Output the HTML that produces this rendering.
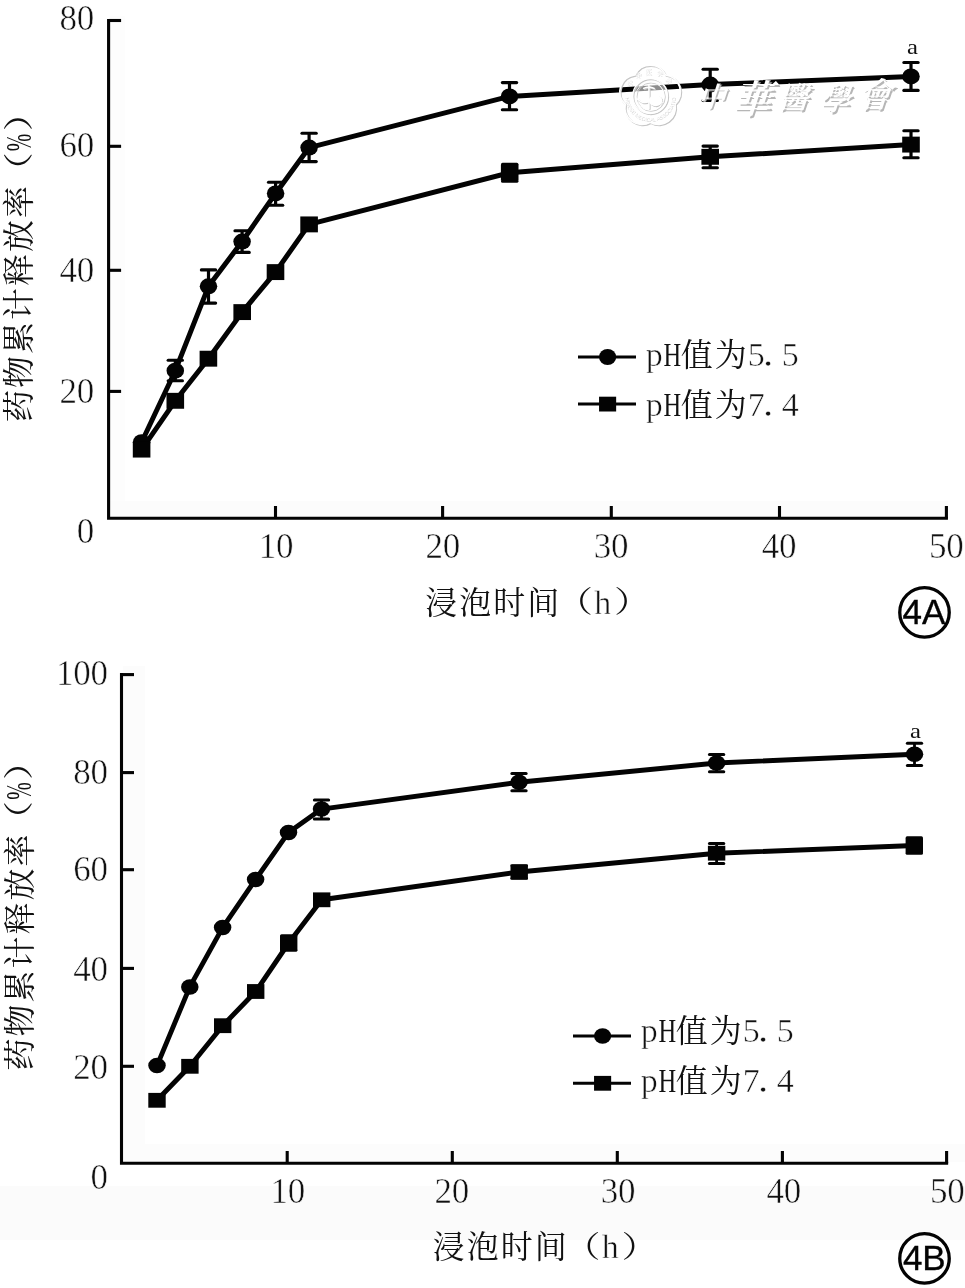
<!DOCTYPE html>
<html lang="zh-CN"><head><meta charset="utf-8"><title>图4 药物累计释放率</title>
<style>
html,body{margin:0;padding:0;background:#fff}
svg{display:block}
text{font-family:"Liberation Serif","Noto Serif CJK SC",serif;font-weight:400}
.t text{stroke:#fff;stroke-width:.5px;paint-order:fill stroke}
.t text.sans{stroke:#030303;stroke-width:.35px}
.t .c{stroke:none}
.sans{font-family:"Liberation Sans",sans-serif}
.wmk text{font-family:"Liberation Serif","Noto Serif CJK SC",serif;font-weight:600}
</style></head><body>
<svg width="965" height="1288" viewBox="0 0 965 1288">
<rect width="965" height="1288" fill="#ffffff"/>
<rect x="0" y="1186" width="965" height="54" fill="#fbfbfb"/>
<rect x="123" y="1144" width="842" height="18" fill="#fcfcfc"/>
<rect x="123" y="666" width="22" height="478" fill="#fcfcfc"/>
<rect x="110" y="16" width="15" height="486" fill="#fdfdfd"/>
<rect x="110" y="501" width="838" height="16" fill="#fcfcfc"/>
<g class="t">
<path d="M108.6,18.95 V518.3 H947.95" fill="none" stroke="#030303" stroke-width="3.1" stroke-linejoin="miter"/>
<line x1="108.60" y1="20.50" x2="121.10" y2="20.50" stroke="#030303" stroke-width="3.1" stroke-linecap="butt"/>
<line x1="108.60" y1="146.30" x2="121.10" y2="146.30" stroke="#030303" stroke-width="3.1" stroke-linecap="butt"/>
<line x1="108.60" y1="270.30" x2="121.10" y2="270.30" stroke="#030303" stroke-width="3.1" stroke-linecap="butt"/>
<line x1="108.60" y1="391.40" x2="121.10" y2="391.40" stroke="#030303" stroke-width="3.1" stroke-linecap="butt"/>
<text x="59.38 76.64" y="29.6" font-size="35" fill="#111">80</text>
<text x="59.38 76.64" y="156.5" font-size="35" fill="#111">60</text>
<text x="59.38 76.64" y="281.5" font-size="35" fill="#111">40</text>
<text x="59.38 76.64" y="402.6" font-size="35" fill="#111">20</text>
<text x="76.64" y="542.6" font-size="35" fill="#111">0</text>
<line x1="275.50" y1="518.30" x2="275.50" y2="506.00" stroke="#030303" stroke-width="3.1" stroke-linecap="butt"/>
<text x="258.84 276.10" y="557.7" font-size="35" fill="#111">10</text>
<line x1="442.60" y1="518.30" x2="442.60" y2="506.00" stroke="#030303" stroke-width="3.1" stroke-linecap="butt"/>
<text x="425.54 442.80" y="557.7" font-size="35" fill="#111">20</text>
<line x1="611.30" y1="518.30" x2="611.30" y2="506.00" stroke="#030303" stroke-width="3.1" stroke-linecap="butt"/>
<text x="593.84 611.10" y="557.7" font-size="35" fill="#111">30</text>
<line x1="779.50" y1="518.30" x2="779.50" y2="506.00" stroke="#030303" stroke-width="3.1" stroke-linecap="butt"/>
<text x="761.64 778.90" y="557.7" font-size="35" fill="#111">40</text>
<line x1="946.40" y1="518.30" x2="946.40" y2="506.00" stroke="#030303" stroke-width="3.1" stroke-linecap="butt"/>
<text x="928.94 946.20" y="557.7" font-size="35" fill="#111">50</text>
<path d="M141.6,449.6 L175.3,400.8 L208.4,358.7 L242.2,312.1 L275.5,272.1 L309.1,224.4 L509.7,172.7 L710.2,156.8 L911.0,144.6" fill="none" stroke="#030303" stroke-width="5.0" stroke-linejoin="round" stroke-linecap="round"/>
<path d="M141.6,442.2 L175.3,370.7 L208.5,286.3 L242.1,241.6 L275.6,193.4 L309.1,147.6 L509.5,96.4 L710.2,84.6 L911.0,76.4" fill="none" stroke="#030303" stroke-width="5.0" stroke-linejoin="round" stroke-linecap="round"/>
<line x1="509.70" y1="164.20" x2="509.70" y2="181.20" stroke="#030303" stroke-width="3.2" stroke-linecap="butt"/>
<line x1="502.55" y1="164.20" x2="516.85" y2="164.20" stroke="#030303" stroke-width="3.1" stroke-linecap="round"/>
<line x1="502.55" y1="181.20" x2="516.85" y2="181.20" stroke="#030303" stroke-width="3.1" stroke-linecap="round"/>
<line x1="710.20" y1="146.10" x2="710.20" y2="167.80" stroke="#030303" stroke-width="3.2" stroke-linecap="butt"/>
<line x1="703.05" y1="146.10" x2="717.35" y2="146.10" stroke="#030303" stroke-width="3.1" stroke-linecap="round"/>
<line x1="703.05" y1="167.80" x2="717.35" y2="167.80" stroke="#030303" stroke-width="3.1" stroke-linecap="round"/>
<line x1="911.00" y1="130.70" x2="911.00" y2="157.70" stroke="#030303" stroke-width="3.2" stroke-linecap="butt"/>
<line x1="903.85" y1="130.70" x2="918.15" y2="130.70" stroke="#030303" stroke-width="3.1" stroke-linecap="round"/>
<line x1="903.85" y1="157.70" x2="918.15" y2="157.70" stroke="#030303" stroke-width="3.1" stroke-linecap="round"/>
<line x1="175.30" y1="360.20" x2="175.30" y2="380.70" stroke="#030303" stroke-width="3.2" stroke-linecap="butt"/>
<line x1="168.15" y1="360.20" x2="182.45" y2="360.20" stroke="#030303" stroke-width="3.1" stroke-linecap="round"/>
<line x1="168.15" y1="380.70" x2="182.45" y2="380.70" stroke="#030303" stroke-width="3.1" stroke-linecap="round"/>
<line x1="208.50" y1="269.90" x2="208.50" y2="303.10" stroke="#030303" stroke-width="3.2" stroke-linecap="butt"/>
<line x1="201.35" y1="269.90" x2="215.65" y2="269.90" stroke="#030303" stroke-width="3.1" stroke-linecap="round"/>
<line x1="201.35" y1="303.10" x2="215.65" y2="303.10" stroke="#030303" stroke-width="3.1" stroke-linecap="round"/>
<line x1="242.10" y1="230.70" x2="242.10" y2="252.40" stroke="#030303" stroke-width="3.2" stroke-linecap="butt"/>
<line x1="234.95" y1="230.70" x2="249.25" y2="230.70" stroke="#030303" stroke-width="3.1" stroke-linecap="round"/>
<line x1="234.95" y1="252.40" x2="249.25" y2="252.40" stroke="#030303" stroke-width="3.1" stroke-linecap="round"/>
<line x1="275.60" y1="182.20" x2="275.60" y2="205.20" stroke="#030303" stroke-width="3.2" stroke-linecap="butt"/>
<line x1="268.45" y1="182.20" x2="282.75" y2="182.20" stroke="#030303" stroke-width="3.1" stroke-linecap="round"/>
<line x1="268.45" y1="205.20" x2="282.75" y2="205.20" stroke="#030303" stroke-width="3.1" stroke-linecap="round"/>
<line x1="309.10" y1="133.30" x2="309.10" y2="161.60" stroke="#030303" stroke-width="3.2" stroke-linecap="butt"/>
<line x1="301.95" y1="133.30" x2="316.25" y2="133.30" stroke="#030303" stroke-width="3.1" stroke-linecap="round"/>
<line x1="301.95" y1="161.60" x2="316.25" y2="161.60" stroke="#030303" stroke-width="3.1" stroke-linecap="round"/>
<line x1="509.50" y1="82.60" x2="509.50" y2="109.80" stroke="#030303" stroke-width="3.2" stroke-linecap="butt"/>
<line x1="502.35" y1="82.60" x2="516.65" y2="82.60" stroke="#030303" stroke-width="3.1" stroke-linecap="round"/>
<line x1="502.35" y1="109.80" x2="516.65" y2="109.80" stroke="#030303" stroke-width="3.1" stroke-linecap="round"/>
<line x1="710.20" y1="69.20" x2="710.20" y2="100.50" stroke="#030303" stroke-width="3.2" stroke-linecap="butt"/>
<line x1="703.05" y1="69.20" x2="717.35" y2="69.20" stroke="#030303" stroke-width="3.1" stroke-linecap="round"/>
<line x1="703.05" y1="100.50" x2="717.35" y2="100.50" stroke="#030303" stroke-width="3.1" stroke-linecap="round"/>
<line x1="911.00" y1="62.50" x2="911.00" y2="90.40" stroke="#030303" stroke-width="3.2" stroke-linecap="butt"/>
<line x1="903.85" y1="62.50" x2="918.15" y2="62.50" stroke="#030303" stroke-width="3.1" stroke-linecap="round"/>
<line x1="903.85" y1="90.40" x2="918.15" y2="90.40" stroke="#030303" stroke-width="3.1" stroke-linecap="round"/>
<ellipse cx="141.6" cy="442.2" rx="8.75" ry="8.0" fill="#030303"/>
<ellipse cx="175.3" cy="370.7" rx="8.75" ry="8.0" fill="#030303"/>
<ellipse cx="208.5" cy="286.3" rx="8.75" ry="8.0" fill="#030303"/>
<ellipse cx="242.1" cy="241.6" rx="8.75" ry="8.0" fill="#030303"/>
<ellipse cx="275.6" cy="193.4" rx="8.75" ry="8.0" fill="#030303"/>
<ellipse cx="309.1" cy="147.6" rx="8.75" ry="8.0" fill="#030303"/>
<ellipse cx="509.5" cy="96.4" rx="8.75" ry="8.0" fill="#030303"/>
<ellipse cx="710.2" cy="84.6" rx="8.75" ry="8.0" fill="#030303"/>
<ellipse cx="911.0" cy="76.4" rx="8.75" ry="8.0" fill="#030303"/>
<rect x="132.80" y="441.65" width="17.6" height="15.9" fill="#030303"/>
<rect x="166.50" y="392.85" width="17.6" height="15.9" fill="#030303"/>
<rect x="199.60" y="350.75" width="17.6" height="15.9" fill="#030303"/>
<rect x="233.40" y="304.15" width="17.6" height="15.9" fill="#030303"/>
<rect x="266.70" y="264.15" width="17.6" height="15.9" fill="#030303"/>
<rect x="300.30" y="216.45" width="17.6" height="15.9" fill="#030303"/>
<rect x="500.90" y="164.75" width="17.6" height="15.9" fill="#030303"/>
<rect x="701.40" y="148.85" width="17.6" height="15.9" fill="#030303"/>
<rect x="902.20" y="136.65" width="17.6" height="15.9" fill="#030303"/>
<line x1="578.00" y1="357.00" x2="636.00" y2="357.00" stroke="#030303" stroke-width="3.0" stroke-linecap="butt"/>
<ellipse cx="607.6" cy="357.0" rx="8.6" ry="8.1" fill="#030303"/>
<text font-size="34.0" fill="#111"><tspan y="365.7" x="645.70">p</tspan><tspan class="c" x="663.50" y="365.70" font-size="32.98" textLength="17.67" lengthAdjust="spacingAndGlyphs">H</tspan><tspan y="365.7" class="c" x="680.72 714.72" font-size="31.96">值为</tspan><tspan y="365.7" x="747.70">5</tspan><tspan x="763.00" y="365.70" font-size="40.80">.</tspan><tspan y="365.7" x="781.70">5</tspan></text>
<line x1="578.00" y1="404.10" x2="636.00" y2="404.10" stroke="#030303" stroke-width="3.0" stroke-linecap="butt"/>
<rect x="599.0500000000001" y="396.70" width="17.1" height="14.8" fill="#030303"/>
<text font-size="34.0" fill="#111"><tspan y="415.6" x="645.70">p</tspan><tspan class="c" x="663.50" y="415.60" font-size="32.98" textLength="17.67" lengthAdjust="spacingAndGlyphs">H</tspan><tspan y="415.6" class="c" x="680.72 714.72" font-size="31.96">值为</tspan><tspan y="415.6" x="747.70">7</tspan><tspan x="763.00" y="415.60" font-size="40.80">.</tspan><tspan y="415.6" x="781.70">4</tspan></text>
<text class="c" transform="translate(912.4,53.9) scale(1.15,1)" text-anchor="middle" font-size="21.5" fill="#111">a</text>
<text font-size="34.0" fill="#111"><tspan y="613.8" class="c" x="425.32 459.32 493.32 527.32" font-size="31.96">浸泡时间</tspan><tspan class="c" x="555.90" y="612.30" font-size="29.68" textLength="37.06" lengthAdjust="spacingAndGlyphs">（</tspan><tspan y="613.8" x="594.30">h</tspan><tspan class="c" x="613.90" y="612.30" font-size="29.68" textLength="37.06" lengthAdjust="spacingAndGlyphs">）</tspan></text>
<g transform="translate(30.3,422.9) rotate(-90)">
<text font-size="34.0" fill="#111"><tspan y="0" class="c" x="1.02 35.02 69.02 103.02 137.02 171.02 205.02" font-size="31.96">药物累计释放率</tspan><tspan class="c" x="233.60" y="-1.50" font-size="29.68" textLength="37.06" lengthAdjust="spacingAndGlyphs">（</tspan><tspan class="c" x="271.70" y="0.30" font-size="35.36" textLength="17.56" lengthAdjust="spacingAndGlyphs">%</tspan><tspan class="c" x="291.60" y="-1.50" font-size="29.68" textLength="37.06" lengthAdjust="spacingAndGlyphs">）</tspan></text>
</g>
<circle cx="924.5" cy="612.4" r="24.75" fill="none" stroke="#030303" stroke-width="3.3"/>
<text class="sans" x="923.9" y="623.8" text-anchor="middle" font-size="35" fill="#030303">4A</text>
</g>
<defs><filter id="wb" x="-10%" y="-10%" width="120%" height="120%"><feGaussianBlur stdDeviation="0.55"/></filter>
<path id="wmTop" d="M628.60,96.10 A21.5,21.5 0 0 1 671.60,96.10"/>
<path id="wmBot" d="M624.90,96.10 A25.2,25.2 0 0 0 675.30,96.10"/></defs>
<g id="watermark">
<circle cx="650.1" cy="96.1" r="17.2" fill="#fff" fill-opacity="0.55"/>
<g transform="translate(1.0,1.0)" filter="url(#wb)" fill="none" stroke="#c6c6c6">
<path d="M634.70,74.90 A17.0,17.0 0 0 1 665.50,74.90 A17.0,17.0 0 0 1 675.02,104.20 A17.0,17.0 0 0 1 650.10,122.30 A17.0,17.0 0 0 1 625.18,104.20 A17.0,17.0 0 0 1 634.70,74.90Z" stroke-width="1.7"/>
<circle cx="650.1" cy="96.1" r="17.4" stroke-width="1.3"/>
<circle cx="650.1" cy="96.1" r="14.2" stroke-width="0.9"/>
<ellipse cx="655.6" cy="100.6" rx="6.8" ry="5.6" fill="#c6c6c6" stroke="none"/>
<path d="M648.9,84.1 V109.1 M643.1,88.6 q5.8,-3.2 11.6,0 M637.1,98.6 q6.5,6.5 12,2.2" stroke-width="1.5"/>
</g>
<g transform="translate(0,0)" fill="none" stroke="#fff">
<path d="M634.70,74.90 A17.0,17.0 0 0 1 665.50,74.90 A17.0,17.0 0 0 1 675.02,104.20 A17.0,17.0 0 0 1 650.10,122.30 A17.0,17.0 0 0 1 625.18,104.20 A17.0,17.0 0 0 1 634.70,74.90Z" stroke-width="1.7"/>
<circle cx="650.1" cy="96.1" r="17.4" stroke-width="1.3"/>
<circle cx="650.1" cy="96.1" r="14.2" stroke-width="0.9"/>
<ellipse cx="655.6" cy="100.6" rx="6.8" ry="5.6" fill="#fff" stroke="none"/>
<path d="M648.9,84.1 V109.1 M643.1,88.6 q5.8,-3.2 11.6,0 M637.1,98.6 q6.5,6.5 12,2.2" stroke-width="1.5"/>
</g>
<text font-size="6.6" fill="#cdcdcd" font-weight="700" transform="translate(0.7,0.7)" letter-spacing="3.2"><textPath href="#wmTop" startOffset="50%" text-anchor="middle">中华医学会</textPath></text>
<text class="sans" font-size="5.2" fill="#cdcdcd" font-weight="700" transform="translate(0.7,0.7)"><textPath href="#wmBot" startOffset="50%" text-anchor="middle">CHINESE MEDICAL ASSOCIATION</textPath></text>
<text font-size="6.6" fill="#fff" font-weight="700" transform="translate(0,0)" letter-spacing="3.2"><textPath href="#wmTop" startOffset="50%" text-anchor="middle">中华医学会</textPath></text>
<text class="sans" font-size="5.2" fill="#fff" font-weight="700" transform="translate(0,0)"><textPath href="#wmBot" startOffset="50%" text-anchor="middle">CHINESE MEDICAL ASSOCIATION</textPath></text>
<g class="wmk" fill="#b6b6b6" filter="url(#wb)"><text transform="skewX(-18)"><tspan x="733.75" y="108.50" font-size="28">中</tspan><tspan x="770.87" y="115.00" font-size="39">華</tspan><tspan x="815.24" y="110.00" font-size="30">醫</tspan><tspan x="856.89" y="112.00" font-size="31">學</tspan><tspan x="893.92" y="109.00" font-size="34">會</tspan></text></g>
<g class="wmk" fill="#fff"><text transform="skewX(-18)"><tspan x="731.77" y="107.00" font-size="28">中</tspan><tspan x="768.88" y="113.50" font-size="39">華</tspan><tspan x="813.25" y="108.50" font-size="30">醫</tspan><tspan x="854.90" y="110.50" font-size="31">學</tspan><tspan x="891.93" y="107.50" font-size="34">會</tspan></text></g>
</g>
</g>
<g class="t">
<path d="M121.5,673.05 V1163.3 H948.15" fill="none" stroke="#030303" stroke-width="3.1" stroke-linejoin="miter"/>
<line x1="121.50" y1="674.60" x2="134.00" y2="674.60" stroke="#030303" stroke-width="3.1" stroke-linecap="butt"/>
<line x1="121.50" y1="772.60" x2="134.00" y2="772.60" stroke="#030303" stroke-width="3.1" stroke-linecap="butt"/>
<line x1="121.50" y1="869.70" x2="134.00" y2="869.70" stroke="#030303" stroke-width="3.1" stroke-linecap="butt"/>
<line x1="121.50" y1="968.40" x2="134.00" y2="968.40" stroke="#030303" stroke-width="3.1" stroke-linecap="butt"/>
<line x1="121.50" y1="1066.30" x2="134.00" y2="1066.30" stroke="#030303" stroke-width="3.1" stroke-linecap="butt"/>
<text x="56.02 73.28 90.54" y="684.6" font-size="35" fill="#111">100</text>
<text x="73.28 90.54" y="784.3" font-size="35" fill="#111">80</text>
<text x="73.28 90.54" y="881.1" font-size="35" fill="#111">60</text>
<text x="73.28 90.54" y="980.6" font-size="35" fill="#111">40</text>
<text x="73.28 90.54" y="1078.5" font-size="35" fill="#111">20</text>
<text x="90.54" y="1188.6" font-size="35" fill="#111">0</text>
<line x1="287.20" y1="1163.30" x2="287.20" y2="1151.00" stroke="#030303" stroke-width="3.1" stroke-linecap="butt"/>
<text x="270.54 287.80" y="1202.5" font-size="35" fill="#111">10</text>
<line x1="452.30" y1="1163.30" x2="452.30" y2="1151.00" stroke="#030303" stroke-width="3.1" stroke-linecap="butt"/>
<text x="434.44 451.70" y="1202.5" font-size="35" fill="#111">20</text>
<line x1="617.30" y1="1163.30" x2="617.30" y2="1151.00" stroke="#030303" stroke-width="3.1" stroke-linecap="butt"/>
<text x="600.64 617.90" y="1202.5" font-size="35" fill="#111">30</text>
<line x1="782.40" y1="1163.30" x2="782.40" y2="1151.00" stroke="#030303" stroke-width="3.1" stroke-linecap="butt"/>
<text x="766.54 783.80" y="1202.5" font-size="35" fill="#111">40</text>
<line x1="946.60" y1="1163.30" x2="946.60" y2="1151.00" stroke="#030303" stroke-width="3.1" stroke-linecap="butt"/>
<text x="929.94 947.20" y="1202.5" font-size="35" fill="#111">50</text>
<path d="M157.0,1100.3 L189.9,1066.3 L222.7,1025.7 L255.7,991.5 L288.7,943.0 L321.7,899.8 L519.2,872.0 L716.6,853.2 L914.3,845.5" fill="none" stroke="#030303" stroke-width="4.9" stroke-linejoin="round" stroke-linecap="round"/>
<path d="M157.0,1065.6 L189.8,986.9 L222.6,927.6 L255.6,879.5 L288.5,832.4 L321.5,809.1 L519.0,782.2 L716.6,763.0 L914.5,754.3" fill="none" stroke="#030303" stroke-width="4.9" stroke-linejoin="round" stroke-linecap="round"/>
<line x1="288.70" y1="935.70" x2="288.70" y2="950.30" stroke="#030303" stroke-width="2.8" stroke-linecap="butt"/>
<line x1="281.55" y1="935.70" x2="295.85" y2="935.70" stroke="#030303" stroke-width="3.0" stroke-linecap="round"/>
<line x1="281.55" y1="950.30" x2="295.85" y2="950.30" stroke="#030303" stroke-width="3.0" stroke-linecap="round"/>
<line x1="519.20" y1="865.70" x2="519.20" y2="878.30" stroke="#030303" stroke-width="2.8" stroke-linecap="butt"/>
<line x1="512.05" y1="865.70" x2="526.35" y2="865.70" stroke="#030303" stroke-width="3.0" stroke-linecap="round"/>
<line x1="512.05" y1="878.30" x2="526.35" y2="878.30" stroke="#030303" stroke-width="3.0" stroke-linecap="round"/>
<line x1="716.60" y1="843.60" x2="716.60" y2="863.40" stroke="#030303" stroke-width="2.8" stroke-linecap="butt"/>
<line x1="709.45" y1="843.60" x2="723.75" y2="843.60" stroke="#030303" stroke-width="3.0" stroke-linecap="round"/>
<line x1="709.45" y1="863.40" x2="723.75" y2="863.40" stroke="#030303" stroke-width="3.0" stroke-linecap="round"/>
<line x1="914.30" y1="837.70" x2="914.30" y2="853.30" stroke="#030303" stroke-width="2.8" stroke-linecap="butt"/>
<line x1="907.15" y1="837.70" x2="921.45" y2="837.70" stroke="#030303" stroke-width="3.0" stroke-linecap="round"/>
<line x1="907.15" y1="853.30" x2="921.45" y2="853.30" stroke="#030303" stroke-width="3.0" stroke-linecap="round"/>
<line x1="321.50" y1="799.90" x2="321.50" y2="819.00" stroke="#030303" stroke-width="2.8" stroke-linecap="butt"/>
<line x1="314.35" y1="799.90" x2="328.65" y2="799.90" stroke="#030303" stroke-width="3.0" stroke-linecap="round"/>
<line x1="314.35" y1="819.00" x2="328.65" y2="819.00" stroke="#030303" stroke-width="3.0" stroke-linecap="round"/>
<line x1="519.00" y1="773.60" x2="519.00" y2="790.80" stroke="#030303" stroke-width="2.8" stroke-linecap="butt"/>
<line x1="511.85" y1="773.60" x2="526.15" y2="773.60" stroke="#030303" stroke-width="3.0" stroke-linecap="round"/>
<line x1="511.85" y1="790.80" x2="526.15" y2="790.80" stroke="#030303" stroke-width="3.0" stroke-linecap="round"/>
<line x1="716.60" y1="754.60" x2="716.60" y2="771.70" stroke="#030303" stroke-width="2.8" stroke-linecap="butt"/>
<line x1="709.45" y1="754.60" x2="723.75" y2="754.60" stroke="#030303" stroke-width="3.0" stroke-linecap="round"/>
<line x1="709.45" y1="771.70" x2="723.75" y2="771.70" stroke="#030303" stroke-width="3.0" stroke-linecap="round"/>
<line x1="914.50" y1="743.20" x2="914.50" y2="765.60" stroke="#030303" stroke-width="2.8" stroke-linecap="butt"/>
<line x1="907.35" y1="743.20" x2="921.65" y2="743.20" stroke="#030303" stroke-width="3.0" stroke-linecap="round"/>
<line x1="907.35" y1="765.60" x2="921.65" y2="765.60" stroke="#030303" stroke-width="3.0" stroke-linecap="round"/>
<ellipse cx="157.0" cy="1065.6" rx="8.75" ry="7.75" fill="#030303"/>
<ellipse cx="189.8" cy="986.9" rx="8.75" ry="7.75" fill="#030303"/>
<ellipse cx="222.6" cy="927.6" rx="8.75" ry="7.75" fill="#030303"/>
<ellipse cx="255.6" cy="879.5" rx="8.75" ry="7.75" fill="#030303"/>
<ellipse cx="288.5" cy="832.4" rx="8.75" ry="7.75" fill="#030303"/>
<ellipse cx="321.5" cy="809.1" rx="8.75" ry="7.75" fill="#030303"/>
<ellipse cx="519.0" cy="782.2" rx="8.75" ry="7.75" fill="#030303"/>
<ellipse cx="716.6" cy="763.0" rx="8.75" ry="7.75" fill="#030303"/>
<ellipse cx="914.5" cy="754.3" rx="8.75" ry="7.75" fill="#030303"/>
<rect x="148.30" y="1092.90" width="17.4" height="14.8" fill="#030303"/>
<rect x="181.20" y="1058.90" width="17.4" height="14.8" fill="#030303"/>
<rect x="214.00" y="1018.30" width="17.4" height="14.8" fill="#030303"/>
<rect x="247.00" y="984.10" width="17.4" height="14.8" fill="#030303"/>
<rect x="280.00" y="935.60" width="17.4" height="14.8" fill="#030303"/>
<rect x="313.00" y="892.40" width="17.4" height="14.8" fill="#030303"/>
<rect x="510.50" y="864.60" width="17.4" height="14.8" fill="#030303"/>
<rect x="707.90" y="845.80" width="17.4" height="14.8" fill="#030303"/>
<rect x="905.60" y="838.10" width="17.4" height="14.8" fill="#030303"/>
<line x1="573.00" y1="1036.00" x2="631.00" y2="1036.00" stroke="#030303" stroke-width="3.0" stroke-linecap="butt"/>
<ellipse cx="602.6" cy="1036.0" rx="8.6" ry="7.7" fill="#030303"/>
<text font-size="34.0" fill="#111"><tspan y="1042.3" x="640.70">p</tspan><tspan class="c" x="658.50" y="1042.30" font-size="32.98" textLength="17.67" lengthAdjust="spacingAndGlyphs">H</tspan><tspan y="1042.3" class="c" x="675.72 709.72" font-size="31.96">值为</tspan><tspan y="1042.3" x="742.70">5</tspan><tspan x="758.00" y="1042.30" font-size="40.80">.</tspan><tspan y="1042.3" x="776.70">5</tspan></text>
<line x1="573.00" y1="1083.30" x2="631.00" y2="1083.30" stroke="#030303" stroke-width="3.0" stroke-linecap="butt"/>
<rect x="594.0500000000001" y="1075.90" width="17.1" height="14.8" fill="#030303"/>
<text font-size="34.0" fill="#111"><tspan y="1091.6" x="640.70">p</tspan><tspan class="c" x="658.50" y="1091.60" font-size="32.98" textLength="17.67" lengthAdjust="spacingAndGlyphs">H</tspan><tspan y="1091.6" class="c" x="675.72 709.72" font-size="31.96">值为</tspan><tspan y="1091.6" x="742.70">7</tspan><tspan x="758.00" y="1091.60" font-size="40.80">.</tspan><tspan y="1091.6" x="776.70">4</tspan></text>
<text class="c" transform="translate(915.4,737.9) scale(1.15,1)" text-anchor="middle" font-size="21.5" fill="#111">a</text>
<text font-size="34.0" fill="#111"><tspan y="1258.4" class="c" x="432.82 466.82 500.82 534.82" font-size="31.96">浸泡时间</tspan><tspan class="c" x="563.40" y="1256.90" font-size="29.68" textLength="37.06" lengthAdjust="spacingAndGlyphs">（</tspan><tspan y="1258.4" x="601.80">h</tspan><tspan class="c" x="621.40" y="1256.90" font-size="29.68" textLength="37.06" lengthAdjust="spacingAndGlyphs">）</tspan></text>
<g transform="translate(30.5,1071.5) rotate(-90)">
<text font-size="34.0" fill="#111"><tspan y="0" class="c" x="1.02 35.02 69.02 103.02 137.02 171.02 205.02" font-size="31.96">药物累计释放率</tspan><tspan class="c" x="233.60" y="-1.50" font-size="29.68" textLength="37.06" lengthAdjust="spacingAndGlyphs">（</tspan><tspan class="c" x="271.70" y="0.30" font-size="35.36" textLength="17.56" lengthAdjust="spacingAndGlyphs">%</tspan><tspan class="c" x="291.60" y="-1.50" font-size="29.68" textLength="37.06" lengthAdjust="spacingAndGlyphs">）</tspan></text>
</g>
<circle cx="924.5" cy="1258.4" r="24.75" fill="none" stroke="#030303" stroke-width="3.3"/>
<text class="sans" x="924.3" y="1269.8" text-anchor="middle" font-size="35" fill="#030303">4B</text>
</g>
</svg>
</body></html>
